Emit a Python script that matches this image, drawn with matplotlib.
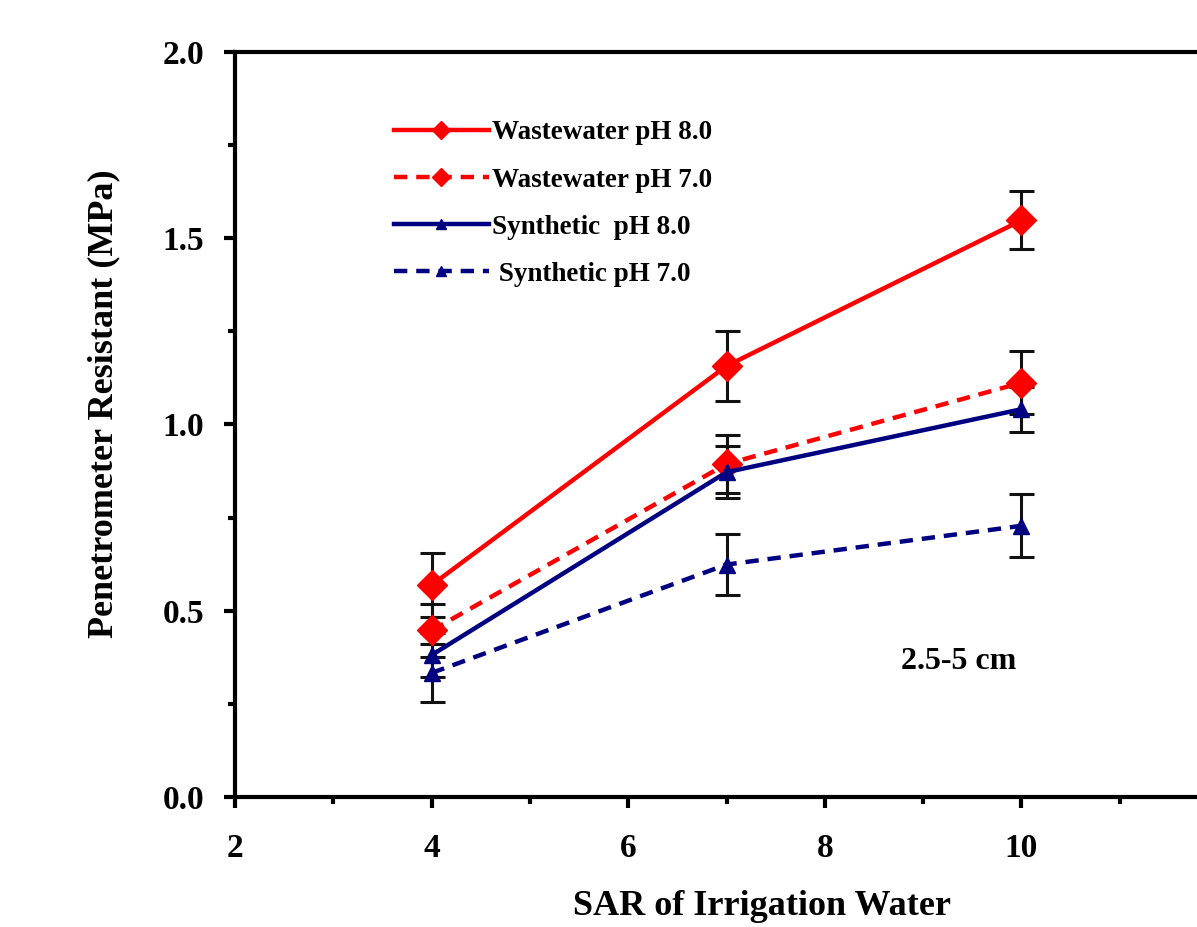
import matplotlib
matplotlib.use("Agg")
import matplotlib.pyplot as plt
from matplotlib.ticker import MultipleLocator, FixedLocator

# data
sar = [4, 7, 10]
ww_ph8 = [0.569, 1.157, 1.548]
ww_ph8_err = [0.086, 0.093, 0.078]
ww_ph7 = [0.447, 0.894, 1.112]
ww_ph7_err = [0.07, 0.078, 0.084]
syn_ph8 = [0.381, 0.872, 1.041]
syn_ph8_err = [0.06, 0.07, 0.06]
syn_ph7 = [0.333, 0.624, 0.728]
syn_ph7_err = [0.078, 0.083, 0.085]

labels = ["Wastewater pH 8.0", "Wastewater pH 7.0", "Synthetic  pH 8.0", " Synthetic pH 7.0"]
x_ticks = [2, 4, 6, 8, 10]

plt.rcParams['font.family'] = ['Liberation Serif', 'DejaVu Serif']
plt.rcParams['font.weight'] = 'bold'

fig = plt.figure(figsize=(11.97, 9.27), dpi=100)
# axes runs past the right edge like the cropped original
ax = fig.add_axes([235/1197, 130/927, 983/1197, 745/927])

red = "#ff0000"
navy = "#000080"

series = [
    (ww_ph8, ww_ph8_err, red, '-', 'D', 15),
    (ww_ph7, ww_ph7_err, red, '--', 'D', 15),
    (syn_ph8, syn_ph8_err, navy, '-', '^', 12),
    (syn_ph7, syn_ph7_err, navy, '--', '^', 12),
]

handles = []
for (vals, err, col, ls, mk, ms), lab in zip(series, labels):
    ax.errorbar(sar, vals, yerr=err, fmt='none', ecolor='#111111',
                elinewidth=2.2, capsize=9, capthick=2.2, zorder=2)
    ln, = ax.plot(sar, vals, color=col, linestyle=ls, linewidth=3.2,
                  marker=mk, markersize=ms, label=lab, zorder=3)
    if ls == '--':
        ln.set_dashes((3, 2))
    handles.append(ln)

ax.set_xlim(2, 12)
ax.set_ylim(0, 2.0)
ax.xaxis.set_major_locator(FixedLocator(x_ticks))
ax.xaxis.set_minor_locator(FixedLocator([3, 5, 7, 9, 11]))
ax.yaxis.set_major_locator(MultipleLocator(0.5))
ax.yaxis.set_minor_locator(MultipleLocator(0.25))
ax.yaxis.set_major_formatter(plt.FormatStrFormatter('%.1f'))

for s in ax.spines.values():
    s.set_linewidth(3)
ax.tick_params(which='major', direction='out', length=8, width=3, labelsize=24)
ax.tick_params(which='minor', direction='out', length=5, width=3)
ax.tick_params(axis='x', which='major', pad=18)
ax.tick_params(axis='y', which='major', pad=14)
for t in ax.get_xticklabels() + ax.get_yticklabels():
    t.set_fontweight('bold')

ax.set_xlabel("SAR of Irrigation Water", fontsize=26, fontweight='bold')
ax.xaxis.set_label_coords((762 - 235) / 983, -(890 - 797) / 745)
ax.xaxis.label.set_va('top')
ax.set_ylabel("Penetrometer Resistant (MPa)", fontsize=26, fontweight='bold')
ax.yaxis.set_label_coords(-(235 - 120) / 983, (797 - 404) / 745)

ax.text(9.36, 0.365, "2.5-5 cm", fontsize=23, fontweight='bold',
        ha='center', va='center')

leg = ax.legend(handles=handles, loc='upper left', bbox_to_anchor=(0.137, 0.941),
                frameon=False, fontsize=19.5, handlelength=3.5, handletextpad=0.1,
                labelspacing=0.82, markerscale=0.6)
for t in leg.get_texts():
    t.set_fontweight('bold')

fig.savefig("out.png", dpi=100)
